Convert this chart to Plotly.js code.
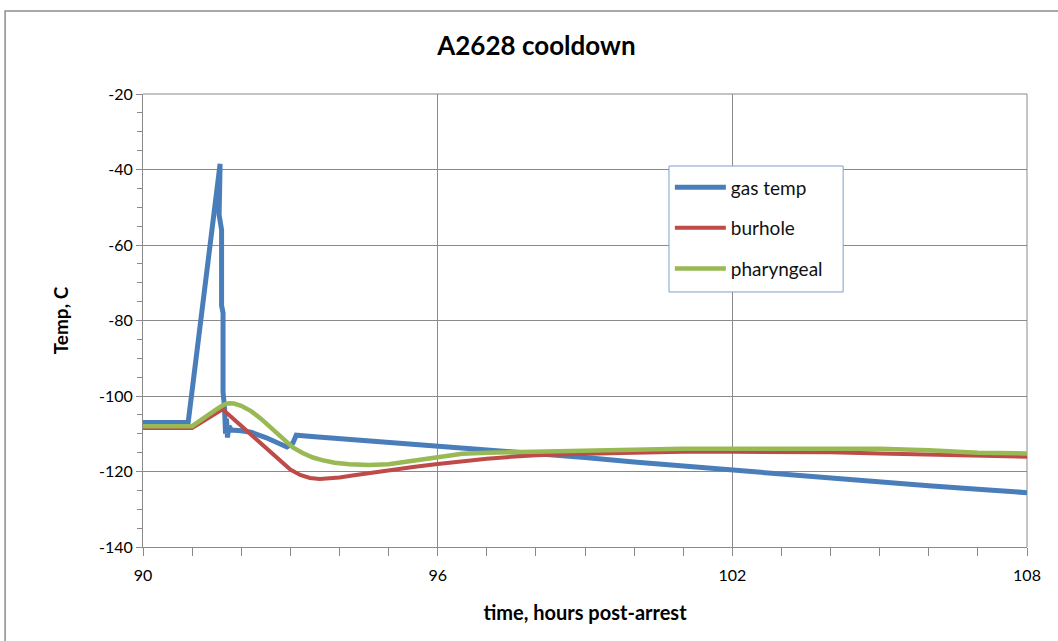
<!DOCTYPE html>
<html>
<head>
<meta charset="utf-8">
<script src="https://cdn.plot.ly/plotly-3.0.1.min.js"></script>
<style>html,body{margin:0;padding:0;background:#fff;}#chart{width:1058px;height:641px;}</style>
</head>
<body>
<div id="chart"></div>
<script>
// ---- data (hours post-arrest, temperature C) ----
const gasTime = [90, 90.92, 91.57, 91.55, 91.60, 91.60, 91.63, 91.63, 91.66, 91.68, 91.70, 91.72, 91.75, 91.8, 92.0, 92.2, 92.5, 92.75, 92.93, 93.05, 93.12, 93.5, 94, 95, 96, 97, 98, 99, 100, 101, 102, 103, 104, 105, 106, 107, 108];
const gasTemp = [-107, -107, -38.5, -52, -56, -76, -78, -99, -103, -110, -106, -111, -108, -109, -109.2, -109.6, -111, -112.5, -113.5, -112.5, -110.4, -110.8, -111.3, -112.1, -113, -114, -115.2, -116.3, -117.5, -118.6, -119.6, -120.7, -121.8, -122.9, -123.8, -124.7, -125.6];

const burTime = [90, 91.0, 91.62, 92.0, 92.5, 93.0, 93.2, 93.4, 93.6, 93.8, 94.0, 94.3, 94.6, 95, 95.5, 96, 96.5, 97, 97.5, 98, 99, 100, 101, 102, 103, 104, 105, 106, 107, 108];
const burTemp = [-108.5, -108.5, -103.5, -108, -113.8, -119.5, -120.9, -121.7, -122, -121.9, -121.6, -121.0, -120.4, -119.7, -118.8, -118, -117.2, -116.6, -116.1, -115.7, -115.3, -115, -114.8, -114.8, -114.8, -114.9, -115.2, -115.5, -115.8, -116.1];

const pharTime = [90, 91.0, 91.5, 91.65, 91.75, 91.85, 92.0, 92.2, 92.4, 92.65, 92.85, 93.05, 93.25, 93.46, 93.65, 93.9, 94.2, 94.6, 95, 95.5, 96, 96.5, 97, 98, 99, 100, 101, 102, 103, 104, 105, 106, 106.5, 107, 108];
const pharTemp = [-108, -108, -103.5, -102.3, -101.9, -102, -102.6, -104, -106, -109, -111.6, -113.6, -115.1, -116.3, -117, -117.7, -118.1, -118.3, -118.1, -117.2, -116, -115.3, -115, -114.7, -114.4, -114.1, -114, -114, -114, -113.9, -114, -114.4, -114.7, -115, -115.2];

const seriesNames = ['gas temp', 'burhole', 'pharyngeal'];
const xTickVals = [90, 96, 102, 108];
const yTickVals = [-140, -120, -100, -80, -60, -40, -20];

const FONT = 'Lato, "Open Sans", sans-serif';
const GRID = '#8a8a8a';

const traces = [
  {x: gasTime, y: gasTemp, name: seriesNames[0], legendgroup: 'a', mode: 'lines', line: {color: '#4a7ebb', width: 5}},
  {x: burTime, y: burTemp, name: seriesNames[1], legendgroup: 'b', mode: 'lines', line: {color: '#be4b48', width: 4}},
  {x: pharTime, y: pharTemp, name: seriesNames[2], legendgroup: 'c', mode: 'lines', line: {color: '#98b954', width: 4.5}}
];

const layout = {
  width: 1058, height: 641,
  margin: {l: 143, r: 31, t: 94, b: 94},
  paper_bgcolor: '#fff', plot_bgcolor: '#fff',
  font: {family: FONT, size: 16, color: '#000'},
  title: {text: '<b>A2628 cooldown</b>', font: {family: FONT, size: 26, color: '#000'}, x: 0.507, xanchor: 'center', y: 0.928, yanchor: 'middle', yref: 'container'},
  showlegend: true,
  legend: {x: 0.596, y: 0.836, xanchor: 'left', yanchor: 'top', bgcolor: 'rgba(0,0,0,0)', borderwidth: 0, tracegroupgap: 13, itemwidth: 51, font: {family: FONT, size: 19, color: '#111'}},
  xaxis: {
    range: [90, 108], tickvals: xTickVals, ticktext: xTickVals.map(String),
    showgrid: true, gridcolor: GRID, gridwidth: 1,
    showline: true, linecolor: GRID, linewidth: 1, zeroline: false,
    ticks: 'outside', ticklen: 8, tickcolor: GRID, ticklabelstandoff: 6,
    minor: {dtick: 1, ticks: 'outside', ticklen: 8, tickcolor: GRID, showgrid: false},
    tickfont: {family: FONT, size: 16, color: '#000'},
    title: {text: '<b>time, hours post-arrest</b>', font: {family: FONT, size: 20, color: '#000'}, standoff: 22}
  },
  yaxis: {
    range: [-140, -20], tickvals: yTickVals, ticktext: yTickVals.map(String),
    showgrid: true, gridcolor: GRID, gridwidth: 1,
    showline: true, linecolor: GRID, linewidth: 1, zeroline: false,
    ticks: 'outside', ticklen: 6, tickcolor: GRID,
    minor: {dtick: 5, ticks: 'outside', ticklen: 5, tickcolor: GRID, showgrid: false},
    tickfont: {family: FONT, size: 16, color: '#000'},
    title: {text: '<b>Temp, C</b>', font: {family: FONT, size: 19, color: '#000'}, standoff: 25}
  },
  shapes: [
    {type: 'rect', xref: 'paper', yref: 'paper', x0: -0.156, x1: 1.06, y0: -0.3, y1: 1.183, line: {color: '#8c8c8c', width: 1.5}, fillcolor: 'rgba(0,0,0,0)', layer: 'below'},
    {type: 'rect', xref: 'paper', yref: 'paper', x0: 0.595, x1: 0.792, y0: 0.563, y1: 0.841, line: {color: '#7ba0cd', width: 1}, fillcolor: '#fff', layer: 'above'},
    {type: 'line', xref: 'paper', yref: 'paper', x0: 1, x1: 1, y0: 0, y1: 1, line: {color: GRID, width: 1}, layer: 'below'},
    {type: 'line', xref: 'paper', yref: 'paper', x0: 0, x1: 1, y0: 1, y1: 1, line: {color: GRID, width: 1}, layer: 'below'}
  ]
};

Plotly.newPlot('chart', traces, layout, {displayModeBar: false, staticPlot: true});
</script>
</body>
</html>
